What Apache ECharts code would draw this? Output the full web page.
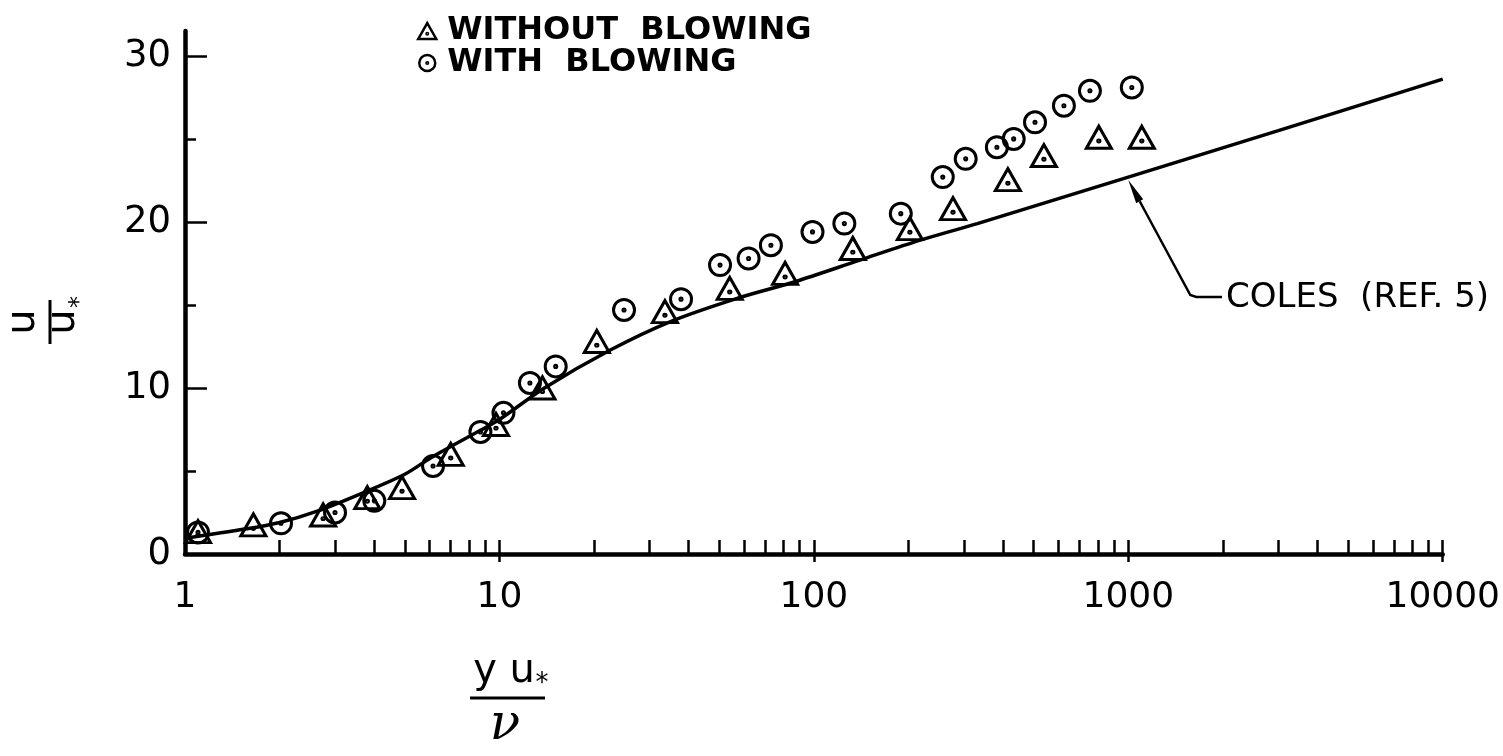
<!DOCTYPE html>
<html>
<head>
<meta charset="utf-8">
<script src="https://cdn.jsdelivr.net/npm/echarts@6/dist/echarts.min.js"></script>
<style>
html, body { margin: 0; padding: 0; background: #fff; }
#main { width: 1503px; height: 756px; }
</style>
</head>
<body>
<div id="main"></div>
<script>
// data (y u*/nu on a log axis, u/u* linear)
var withoutX = [1.1, 1.65, 2.75, 3.8, 4.9, 7.0, 9.75, 13.7, 20.4, 33.6, 54, 81, 133, 202, 277, 414, 539, 806, 1104];
var withoutY = [1.35, 1.75, 2.35, 3.4, 4.0, 6.0, 7.8, 10.0, 12.8, 14.6, 16.0, 16.9, 18.4, 19.6, 20.8, 22.55, 24.0, 25.1, 25.1];

var withX = [1.1, 2.02, 3.0, 4.0, 6.15, 8.7, 10.3, 12.5, 15.1, 24.9, 37.8, 50.3, 62, 73, 99, 125, 189, 257, 304, 382, 432, 505, 624, 755, 1026];
var withY = [1.3, 1.85, 2.5, 3.2, 5.3, 7.35, 8.5, 10.3, 11.3, 14.7, 15.35, 17.4, 17.8, 18.6, 19.4, 19.9, 20.5, 22.7, 23.8, 24.5, 25.0, 26.0, 27.0, 27.9, 28.1];

var colesX = [1, 1.55, 2, 2.65, 3.7, 5, 6.06, 8.7, 10, 13.9, 22.6, 35, 57, 87, 140, 218, 331, 1000, 3000, 10000];
var colesY = [0.95, 1.5, 1.9, 2.6, 3.7, 4.8, 5.8, 7.45, 8.1, 10.0, 12.3, 14.0, 15.4, 16.4, 17.7, 18.9, 19.9, 22.7, 25.5, 28.6];

var xLabels = [1, 10, 100, 1000, 10000];
var xMinor = [2, 3, 4, 5, 6, 7, 8, 9, 10, 20, 30, 40, 50, 60, 70, 80, 90, 100,
  200, 300, 400, 500, 600, 700, 800, 900, 1000, 2000, 3000, 4000, 5000, 6000, 7000, 8000, 9000, 10000];
var yLabels = [0, 10, 20, 30];
var yMajor = [10, 20, 30];
var yMinor = [5, 15, 25];

var font = 'DejaVu Sans';
var triPath = 'path://M12,0L24,21L0,21Z M11,14a1,1 0 1,0 2,0a1,1 0 1,0 -2,0Z';
var circPath = 'path://M0,10a10,10 0 1,0 20,0a10,10 0 1,0 -20,0Z M9,10a1,1 0 1,0 2,0a1,1 0 1,0 -2,0Z';

function pairs(xs, ys) {
  return xs.map(function (x, i) { return [x, ys[i]]; });
}

var myChart = echarts.init(document.getElementById('main'));

var option = {
  animation: false,
  backgroundColor: '#fff',
  grid: { left: 185, right: 57, top: 31, bottom: 202 },
  legend: {
    data: ['WITHOUT BLOWING', 'WITH BLOWING'],
    orient: 'vertical',
    left: 412,
    top: 10,
    itemWidth: 18,
    itemHeight: 16,
    itemGap: 0,
    itemStyle: { borderWidth: 2.5, opacity: 1 },
    formatter: function (name) { return name.replace(' ', '  '); },
    textStyle: { fontFamily: font, fontSize: 32, fontWeight: 'bold', color: '#000', padding: [0, 0, 0, 6] }
  },
  xAxis: [{
    type: 'log',
    logBase: 10,
    min: 1,
    max: 10000,
    position: 'bottom',
    axisLine: { lineStyle: { color: '#000', width: 4.5 } },
    axisTick: { show: true, inside: false, length: 8, lineStyle: { color: '#000', width: 2.5 }, customValues: [10, 100, 1000, 10000] },
    axisLabel: { customValues: xLabels, margin: 26, fontFamily: font, fontSize: 36, color: '#000',
      formatter: function (v) { return String(Math.round(v)); } },
    splitLine: { show: false },
    minorTick: { show: false }
  }, {
    type: 'log',
    logBase: 10,
    min: 1,
    max: 10000,
    position: 'bottom',
    axisLine: { show: false },
    axisTick: { show: true, inside: true, length: 14, lineStyle: { color: '#000', width: 2.5 }, customValues: xMinor },
    axisLabel: { show: false },
    splitLine: { show: false }
  }],
  yAxis: [{
    type: 'value',
    min: 0,
    max: 31.5,
    position: 'left',
    axisLine: { show: true, lineStyle: { color: '#000', width: 4.5 } },
    axisTick: { show: true, inside: true, length: 22, lineStyle: { color: '#000', width: 2.5 }, customValues: yMajor },
    axisLabel: { customValues: yLabels, margin: 14, fontFamily: font, fontSize: 37, color: '#000' },
    splitLine: { show: false }
  }, {
    type: 'value',
    min: 0,
    max: 31.5,
    position: 'left',
    axisLine: { show: false },
    axisTick: { show: true, inside: true, length: 11, lineStyle: { color: '#000', width: 2.5 }, customValues: yMinor },
    axisLabel: { show: false },
    splitLine: { show: false }
  }],
  series: [{
    name: 'COLES (REF. 5)',
    type: 'line',
    data: pairs(colesX, colesY),
    showSymbol: false,
    smooth: 0.3,
    lineStyle: { color: '#000', width: 3.5 },
    z: 2
  }, {
    name: 'WITHOUT BLOWING',
    type: 'scatter',
    data: pairs(withoutX, withoutY),
    symbol: triPath,
    symbolSize: [25, 22],
    itemStyle: { color: 'rgba(255,255,255,0)', borderColor: '#000', borderWidth: 3, opacity: 1 },
    clip: false,
    z: 3
  }, {
    name: 'WITH BLOWING',
    type: 'scatter',
    data: pairs(withX, withY),
    symbol: circPath,
    symbolSize: 21,
    itemStyle: { color: 'rgba(255,255,255,0)', borderColor: '#000', borderWidth: 3, opacity: 1 },
    clip: false,
    z: 3
  }]
};
myChart.setOption(option);

// axis titles and the Coles callout
var tip = myChart.convertToPixel({ xAxisIndex: 0, yAxisIndex: 0 }, [1000, 22.7]);
tip[1] += 3;
var corner = [tip[0] + 62, 295];
var dx = corner[0] - tip[0], dy = corner[1] - tip[1];
var len = Math.sqrt(dx * dx + dy * dy);
var ux = dx / len, uy = dy / len;
var headBase = [tip[0] + ux * 24, tip[1] + uy * 24];

myChart.setOption({
  graphic: [{
    type: 'group',
    x: 50, y: 322,
    rotation: Math.PI / 2,
    children: [
      { type: 'text', x: 0, y: -26, style: { text: 'u', fontFamily: font, fontSize: 40, fill: '#000', align: 'center', verticalAlign: 'middle' } },
      { type: 'line', shape: { x1: -22, y1: 0, x2: 22, y2: 0 }, style: { stroke: '#000', lineWidth: 3 } },
      { type: 'text', x: 0, y: 14, style: { text: 'u', fontFamily: font, fontSize: 40, fill: '#000', align: 'center', verticalAlign: 'middle' } },
      { type: 'text', x: 20, y: 30, style: { text: '*', fontFamily: font, fontSize: 24, fill: '#000', align: 'center', verticalAlign: 'middle' } }
    ]
  }, {
    type: 'group',
    children: [
      { type: 'text', x: 504, y: 672, style: { text: 'y u', fontFamily: font, fontSize: 40, fill: '#000', align: 'center', verticalAlign: 'middle' } },
      { type: 'text', x: 542, y: 684, style: { text: '*', fontFamily: font, fontSize: 26, fill: '#000', align: 'center', verticalAlign: 'middle' } },
      { type: 'line', shape: { x1: 470, y1: 698, x2: 545, y2: 698 }, style: { stroke: '#000', lineWidth: 3 } },
      { type: 'text', x: 505, y: 726, style: { text: 'ν', fontFamily: 'DejaVu Serif', fontStyle: 'italic', fontSize: 50, fill: '#000', align: 'center', verticalAlign: 'middle' } }
    ]
  }, {
    type: 'group',
    children: [
      { type: 'polyline', shape: { points: [[1222, 297], [corner[0] + 6, 297], corner, headBase] }, style: { stroke: '#000', lineWidth: 2.5, fill: null } },
      { type: 'polygon', shape: { points: [tip, [headBase[0] - uy * 4, headBase[1] + ux * 4], [headBase[0] + uy * 4, headBase[1] - ux * 4]] }, style: { fill: '#000' } },
      { type: 'text', x: 1226, y: 298, style: { text: 'COLES  (REF. 5)', fontFamily: font, fontSize: 34, fill: '#000', align: 'left', verticalAlign: 'middle' } }
    ]
  }]
});

window.addEventListener('resize', function () {
  myChart.resize();
});
</script>
</body>
</html>
